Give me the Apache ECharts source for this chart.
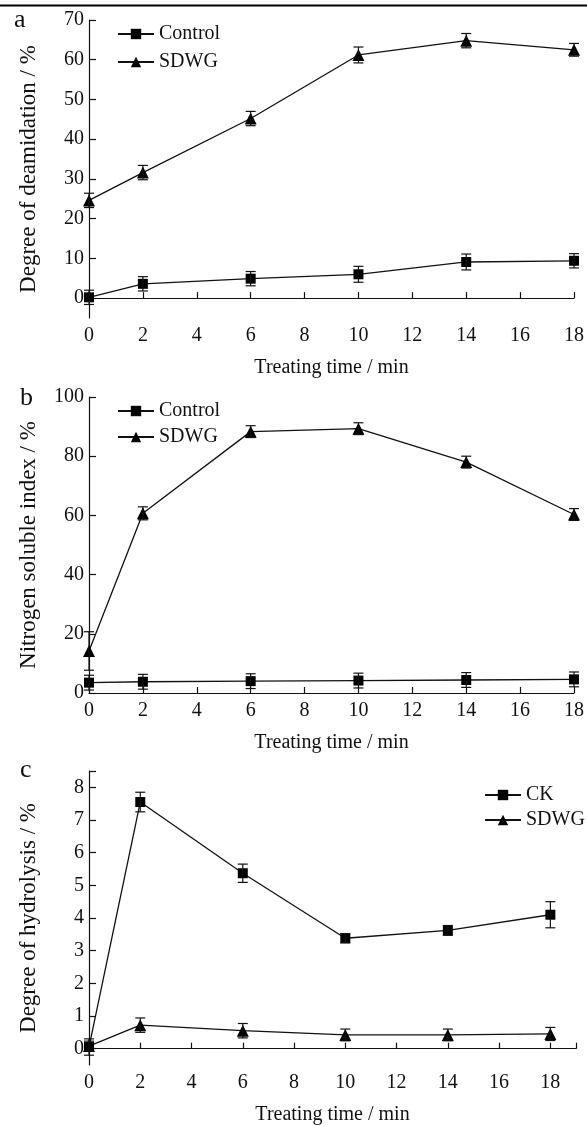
<!DOCTYPE html>
<html><head><meta charset="utf-8">
<script src="https://cdn.jsdelivr.net/npm/echarts@6/dist/echarts.min.js"></script>
<style>html,body{margin:0;padding:0;background:#fff}#c{width:587px;height:1126px}</style>
</head><body><div id="c"></div>
<script>
const times = [0, 2, 6, 10, 14, 18];
// Panel a: degree of deamidation (%)
const aControl = [0.2, 3.6, 4.9, 6.0, 9.1, 9.4];
const aControlErr = [1.8, 1.8, 1.8, 2.0, 2.0, 1.8];
const aSDWG = [24.6, 31.6, 45.2, 61.2, 64.8, 62.5];
const aSDWGErr = [1.8, 1.8, 1.8, 2.0, 1.8, 1.6];
// Panel b: nitrogen soluble index (%)
const bControl = [3.5, 3.8, 4.0, 4.2, 4.4, 4.6];
const bControlErr = [2.5, 2.5, 2.5, 2.5, 2.5, 2.5];
const bSDWG = [14.2, 60.7, 88.3, 89.3, 78.0, 60.3];
const bSDWGErr = [6.5, 2.2, 2.0, 2.0, 2.0, 2.0];
// Panel c: degree of hydrolysis (%)
const cCK = [0.05, 7.55, 5.37, 3.38, 3.62, 4.10];
const cCKErr = [0.25, 0.3, 0.28, 0.14, 0.15, 0.4];
const cSDWG = [0.08, 0.72, 0.55, 0.42, 0.42, 0.45];
const cSDWGErr = [0.15, 0.22, 0.22, 0.18, 0.18, 0.2];

const xLabelsAB = [0, 2, 4, 6, 8, 10, 12, 14, 16, 18];
const xTicksC = [0, 2, 4, 6, 8, 10, 12, 14, 16, 18, 19];
const yLabelsA = [0, 10, 20, 30, 40, 50, 60, 70];
const yLabelsC = [0, 1, 2, 3, 4, 5, 6, 7, 8];
const yTicksC = [0, 1, 2, 3, 4, 5, 6, 7, 8, 8.5];

const FONT = '"Liberation Serif", "DejaVu Serif", serif';
const INK = '#111';
const txt = {fontFamily: FONT, fontSize: 20, color: INK};

function xAxis(idx, max, ticks, labels) {
  return {
    type: 'value', gridIndex: idx, min: 0, max: max,
    name: 'Treating time / min', nameLocation: 'middle', nameGap: 40,
    nameTextStyle: txt,
    axisLine: {show: true, lineStyle: {color: INK, width: 1.2}},
    axisTick: {show: true, inside: true, length: 6, lineStyle: {color: INK, width: 1.2}, customValues: ticks},
    axisLabel: Object.assign({margin: 8, customValues: labels}, txt),
    splitLine: {show: false}
  };
}
function yAxis(idx, min, max, name, ticks, labels, interval) {
  const ax = {
    type: 'value', gridIndex: idx, min: min, max: max,
    name: name, nameLocation: 'middle', nameGap: 49, nameRotate: 90,
    nameTextStyle: Object.assign({}, txt, {fontSize: 23}),
    axisLine: {show: true, lineStyle: {color: INK, width: 1.2}},
    axisTick: {show: true, inside: true, length: 7, lineStyle: {color: INK, width: 1.2}},
    axisLabel: Object.assign({margin: 5}, txt),
    splitLine: {show: false}
  };
  if (interval) ax.interval = interval;
  if (ticks) ax.axisTick.customValues = ticks;
  if (labels) ax.axisLabel.customValues = labels;
  return ax;
}
function lineSeries(name, vals, idx, symbol, size) {
  return {
    type: 'line', name: name, xAxisIndex: idx, yAxisIndex: idx,
    data: times.map((t, i) => [t, vals[i]]),
    symbol: symbol, symbolSize: size, showSymbol: true,
    lineStyle: {color: INK, width: 1.3},
    itemStyle: {color: '#000'},
    z: 3, animation: false
  };
}
function errSeries(vals, errs, idx) {
  return {
    type: 'custom', xAxisIndex: idx, yAxisIndex: idx, silent: true, animation: false, z: 4,
    data: times.map((t, i) => [t, vals[i] - errs[i], vals[i] + errs[i]]),
    renderItem: function (params, api) {
      const lo = api.coord([api.value(0), api.value(1)]);
      const hi = api.coord([api.value(0), api.value(2)]);
      const w = 5;
      const st = {stroke: INK, lineWidth: 1.2};
      return {type: 'group', children: [
        {type: 'line', shape: {x1: hi[0], y1: hi[1], x2: lo[0], y2: lo[1]}, style: st},
        {type: 'line', shape: {x1: hi[0] - w, y1: hi[1], x2: hi[0] + w, y2: hi[1]}, style: st},
        {type: 'line', shape: {x1: lo[0] - w, y1: lo[1], x2: lo[0] + w, y2: lo[1]}, style: st}
      ]};
    }
  };
}
function legend(names, left, top, gap) {
  return {
    data: names, orient: 'vertical', left: left, top: top, padding: 0,
    itemWidth: 36, itemHeight: 13, itemGap: gap, selectedMode: false,
    textStyle: Object.assign({}, txt, {padding: [0, 0, 0, 0]})
  };
}

const chart = echarts.init(document.getElementById('c'), null, {renderer: 'canvas'});
chart.setOption({
  backgroundColor: '#fff',
  animation: false,
  grid: [
    {left: 89, right: 11, top: 20, height: 298},
    {left: 89, right: 11, top: 397, height: 296},
    {left: 89, right: 11, top: 771, height: 295}
  ],
  xAxis: [
    xAxis(0, 18, xLabelsAB, xLabelsAB),
    xAxis(1, 18, xLabelsAB, xLabelsAB),
    xAxis(2, 19, xTicksC, xLabelsAB)
  ],
  yAxis: [
    yAxis(0, -5, 70, 'Degree of deamidation / %', yLabelsA, yLabelsA),
    yAxis(1, 0, 100, 'Nitrogen soluble index / %', null, null, 20),
    yAxis(2, -0.5, 8.5, 'Degree of hydrolysis / %', yTicksC, yLabelsC)
  ],
  legend: [
    legend(['Control', 'SDWG'], 117, 24, 8),
    legend(['Control', 'SDWG'], 117, 401, 6),
    legend(['CK', 'SDWG'], 484, 785, 5)
  ],
  graphic: [
    {type: 'line', shape: {x1: 0, y1: 5.5, x2: 587, y2: 5.5}, style: {stroke: '#000', lineWidth: 2}},
    {type: 'text', left: 14, top: 7, style: {text: 'a', font: '26px ' + FONT, fill: INK}},
    {type: 'text', left: 20, top: 385, style: {text: 'b', font: '26px ' + FONT, fill: INK}},
    {type: 'text', left: 20, top: 757, style: {text: 'c', font: '26px ' + FONT, fill: INK}}
  ],
  series: [
    lineSeries('Control', aControl, 0, 'rect', 10),
    lineSeries('SDWG', aSDWG, 0, 'triangle', 12),
    errSeries(aControl, aControlErr, 0),
    errSeries(aSDWG, aSDWGErr, 0),
    lineSeries('Control', bControl, 1, 'rect', 10),
    lineSeries('SDWG', bSDWG, 1, 'triangle', 12),
    errSeries(bControl, bControlErr, 1),
    errSeries(bSDWG, bSDWGErr, 1),
    lineSeries('CK', cCK, 2, 'rect', 10),
    lineSeries('SDWG', cSDWG, 2, 'triangle', 12),
    errSeries(cCK, cCKErr, 2),
    errSeries(cSDWG, cSDWGErr, 2)
  ]
});
</script>
</body></html>
